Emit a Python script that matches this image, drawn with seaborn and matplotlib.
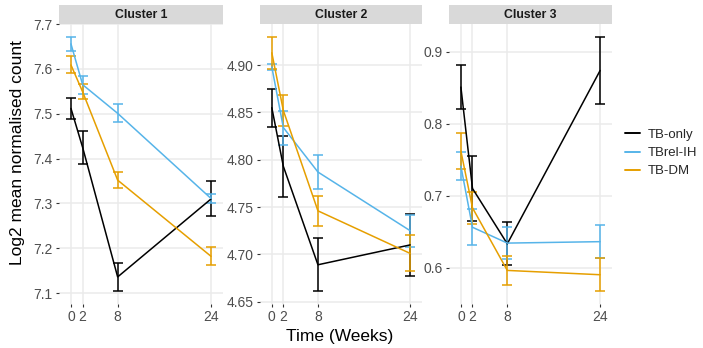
import numpy as np
import pandas as pd
import seaborn as sns
import matplotlib
matplotlib.use("Agg")
import matplotlib.pyplot as plt
from matplotlib.lines import Line2D

# ---- data -------------------------------------------------------------
weeks = [0, 2, 8, 24]
groups = ["TB-only", "TBrel-IH", "TB-DM"]
clusters = ["Cluster 1", "Cluster 2", "Cluster 3"]

# Cluster 1: mean log2 normalised count and standard error
c1_tb_only_mean = [7.512, 7.425, 7.136, 7.310]
c1_tb_only_se = [0.024, 0.037, 0.032, 0.039]
c1_tbrel_mean = [7.656, 7.565, 7.501, 7.311]
c1_tbrel_se = [0.016, 0.020, 0.020, 0.009]
c1_tbdm_mean = [7.609, 7.549, 7.352, 7.182]
c1_tbdm_se = [0.019, 0.017, 0.018, 0.020]

# Cluster 2
c2_tb_only_mean = [4.855, 4.793, 4.689, 4.710]
c2_tb_only_se = [0.020, 0.032, 0.028, 0.033]
c2_tbrel_mean = [4.898, 4.834, 4.787, 4.725]
c2_tbrel_se = [0.003, 0.018, 0.018, 0.017]
c2_tbdm_mean = [4.913, 4.852, 4.746, 4.701]
c2_tbdm_se = [0.017, 0.016, 0.016, 0.019]

# Cluster 3
c3_tb_only_mean = [0.851, 0.710, 0.633, 0.874]
c3_tb_only_se = [0.030, 0.045, 0.030, 0.047]
c3_tbrel_mean = [0.741, 0.656, 0.634, 0.636]
c3_tbrel_se = [0.019, 0.025, 0.022, 0.023]
c3_tbdm_mean = [0.762, 0.683, 0.596, 0.590]
c3_tbdm_se = [0.025, 0.022, 0.020, 0.023]

y_ticks_c1 = [7.1, 7.2, 7.3, 7.4, 7.5, 7.6, 7.7]
y_labels_c1 = ["7.1", "7.2", "7.3", "7.4", "7.5", "7.6", "7.7"]
y_ticks_c2 = [4.65, 4.70, 4.75, 4.80, 4.85, 4.90]
y_labels_c2 = ["4.65", "4.70", "4.75", "4.80", "4.85", "4.90"]
y_ticks_c3 = [0.6, 0.7, 0.8, 0.9]
y_labels_c3 = ["0.6", "0.7", "0.8", "0.9"]

# ---- tidy table ----------------------------------------------------------
series = {
    "Cluster 1": {"TB-only": (c1_tb_only_mean, c1_tb_only_se),
                  "TBrel-IH": (c1_tbrel_mean, c1_tbrel_se),
                  "TB-DM": (c1_tbdm_mean, c1_tbdm_se)},
    "Cluster 2": {"TB-only": (c2_tb_only_mean, c2_tb_only_se),
                  "TBrel-IH": (c2_tbrel_mean, c2_tbrel_se),
                  "TB-DM": (c2_tbdm_mean, c2_tbdm_se)},
    "Cluster 3": {"TB-only": (c3_tb_only_mean, c3_tb_only_se),
                  "TBrel-IH": (c3_tbrel_mean, c3_tbrel_se),
                  "TB-DM": (c3_tbdm_mean, c3_tbdm_se)},
}
rows = []
for cl in clusters:
    for g in groups:
        m, s = series[cl][g]
        for w, mv, sv in zip(weeks, m, s):
            rows.append({"cluster": cl, "group": g, "week": w, "mean": mv, "se": sv})
df = pd.DataFrame(rows)

palette = {"TB-only": "#000000", "TBrel-IH": "#56B4E9", "TB-DM": "#E69F00"}
yticks = {"Cluster 1": (y_ticks_c1, y_labels_c1),
          "Cluster 2": (y_ticks_c2, y_labels_c2),
          "Cluster 3": (y_ticks_c3, y_labels_c3)}

# ---- figure --------------------------------------------------------------
sns.set_theme(style="white")
plt.rcParams["font.family"] = ["Liberation Sans", "DejaVu Sans"]

W, H = 703, 348
fig = plt.figure(figsize=(W / 100, H / 100), dpi=100)

panel_px = [(59, 223), (260, 422), (449, 612)]
top_px, bot_px, strip_top_px = 24, 304, 5

grid_col = "#EBEBEB"
tick_col = "#4D4D4D"

for cl, (x0, x1) in zip(clusters, panel_px):
    ax = fig.add_axes([x0 / W, 1 - bot_px / H, (x1 - x0) / W, (bot_px - top_px) / H])
    sub = df[df["cluster"] == cl]

    for g in groups:
        d = sub[sub["group"] == g]
        ax.errorbar(d["week"], d["mean"], yerr=d["se"], fmt="none",
                    ecolor=palette[g], elinewidth=1.1, capsize=3.6,
                    capthick=1.1, zorder=3)
    sns.lineplot(data=sub, x="week", y="mean", hue="group", hue_order=groups,
                 palette=palette, linewidth=1.1, legend=False, ax=ax,
                 errorbar=None, zorder=3)

    lo = (sub["mean"] - sub["se"]).min()
    hi = (sub["mean"] + sub["se"]).max()
    r = hi - lo
    ax.set_ylim(lo - 0.05 * r, hi + 0.05 * r)
    ax.set_xlim(-2.05, 26.05)

    ax.set_xticks(weeks)
    ax.set_xticklabels([str(w) for w in weeks])
    tv, tl = yticks[cl]
    ax.set_yticks(tv)
    ax.set_yticklabels(tl)

    ax.grid(True, color=grid_col, linewidth=1.1)
    ax.set_axisbelow(True)
    for sp in ax.spines.values():
        sp.set_visible(False)
    ax.set_facecolor("white")
    ax.tick_params(axis="both", length=2.5, width=0.8, color="#333333",
                   labelcolor=tick_col, labelsize=10, pad=2, bottom=True, left=True)
    ax.set_xlabel("")
    ax.set_ylabel("")

    # facet strip
    sax = fig.add_axes([x0 / W, 1 - top_px / H, (x1 - x0) / W, (top_px - strip_top_px) / H])
    sax.set_facecolor("#D9D9D9")
    sax.set_xticks([])
    sax.set_yticks([])
    for sp in sax.spines.values():
        sp.set_visible(False)
    sax.text(0.5, 0.45, cl, ha="center", va="center", fontsize=8.8,
             fontweight="bold", color="#1A1A1A", transform=sax.transAxes)

fig.text(18 / W, 1 - 153 / H, "Log2 mean normalised count", rotation=90,
         ha="center", va="center", fontsize=12.5, color="black")
fig.text(340 / W, 1 - 336 / H, "Time (Weeks)", ha="center", va="center",
         fontsize=12.5, color="black")

handles = [Line2D([0], [0], color=palette[g], lw=1.4) for g in groups]
fig.legend(handles, groups, loc="center left", bbox_to_anchor=(625 / W, 1 - 153 / H),
           frameon=False, fontsize=9.5, handlelength=1.15, handletextpad=0.6,
           labelspacing=0.45, borderaxespad=0, borderpad=0)

fig.savefig("out.png", dpi=100)
